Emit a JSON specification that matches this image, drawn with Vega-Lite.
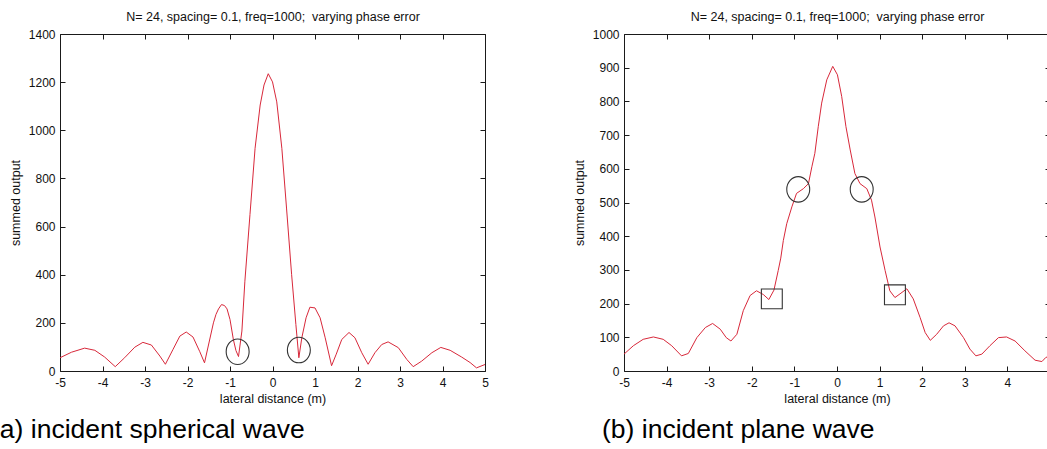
{
  "$schema": "https://vega.github.io/schema/vega-lite/v6.json",
  "padding": {"left": -9, "top": 10, "right": 0, "bottom": 0},
  "background": "white",
  "config": {
    "font": "Liberation Sans",
    "view": {"stroke": null},
    "axis": {
      "grid": false, "domainColor": "#1a1a1a", "tickColor": "#1a1a1a", "tickSize": -5,
      "labelFontSize": 12, "labelColor": "#111", "labelFont": "Liberation Sans",
      "titleFontSize": 12.5, "titleFontWeight": "normal", "titleColor": "#111", "titleFont": "Liberation Sans",
      "labelFlush": false, "labelOverlap": false, "labelExpr": "'' + datum.value"
    }
  },
  "spacing": 139,
  "bounds": "flush",
  "hconcat": [
    {
      "width": 425,
      "height": 337,
      "title": {"text": "(a) incident spherical wave", "orient": "bottom", "anchor": "start", "frame": "group", "dx": -69, "offset": 12, "baseline": "top", "fontSize": 26.5, "fontWeight": "normal", "color": "#000", "font": "Liberation Sans"},
      "layer": [
        {
          "data": {"values": [
            {"x": -5.0, "y": 55}, {"x": -4.73, "y": 78}, {"x": -4.42, "y": 95}, {"x": -4.18, "y": 86}, {"x": -3.95, "y": 58},
            {"x": -3.70, "y": 18}, {"x": -3.48, "y": 55}, {"x": -3.24, "y": 99}, {"x": -3.05, "y": 119}, {"x": -2.85, "y": 108},
            {"x": -2.65, "y": 62}, {"x": -2.52, "y": 28}, {"x": -2.34, "y": 90}, {"x": -2.18, "y": 145}, {"x": -2.03, "y": 162},
            {"x": -1.87, "y": 141}, {"x": -1.71, "y": 80}, {"x": -1.60, "y": 34}, {"x": -1.39, "y": 200}, {"x": -1.33, "y": 235},
            {"x": -1.27, "y": 258}, {"x": -1.20, "y": 276}, {"x": -1.13, "y": 272}, {"x": -1.07, "y": 258}, {"x": -1.00, "y": 214},
            {"x": -0.92, "y": 130}, {"x": -0.86, "y": 85}, {"x": -0.80, "y": 60}, {"x": -0.72, "y": 166}, {"x": -0.65, "y": 373},
            {"x": -0.53, "y": 650}, {"x": -0.41, "y": 925}, {"x": -0.29, "y": 1105}, {"x": -0.20, "y": 1188}, {"x": -0.10, "y": 1235},
            {"x": 0.0, "y": 1201}, {"x": 0.10, "y": 1118}, {"x": 0.22, "y": 925}, {"x": 0.33, "y": 677}, {"x": 0.45, "y": 400},
            {"x": 0.55, "y": 193}, {"x": 0.62, "y": 55}, {"x": 0.69, "y": 138}, {"x": 0.79, "y": 221}, {"x": 0.88, "y": 265},
            {"x": 1.0, "y": 262}, {"x": 1.12, "y": 221}, {"x": 1.24, "y": 138}, {"x": 1.39, "y": 22}, {"x": 1.50, "y": 70},
            {"x": 1.63, "y": 131}, {"x": 1.80, "y": 160}, {"x": 1.94, "y": 138}, {"x": 2.10, "y": 76}, {"x": 2.25, "y": 28},
            {"x": 2.41, "y": 76}, {"x": 2.57, "y": 110}, {"x": 2.72, "y": 121}, {"x": 2.96, "y": 97}, {"x": 3.16, "y": 48},
            {"x": 3.31, "y": 18}, {"x": 3.51, "y": 41}, {"x": 3.75, "y": 76}, {"x": 3.96, "y": 98}, {"x": 4.18, "y": 86},
            {"x": 4.45, "y": 58}, {"x": 4.65, "y": 35}, {"x": 4.80, "y": 13}, {"x": 5.0, "y": 27}
          ]},
          "mark": {"type": "line", "color": "#d8283a", "strokeWidth": 1},
          "encoding": {
            "x": {"field": "x", "type": "quantitative", "scale": {"domain": [-5, 5], "nice": false, "zero": false},
                  "axis": {"orient": "bottom", "title": "lateral distance (m)", "values": [-5, -4, -3, -2, -1, 0, 1, 2, 3, 4, 5], "labelPadding": 11, "titlePadding": 4}},
            "y": {"field": "y", "type": "quantitative", "scale": {"domain": [0, 1400], "nice": false},
                  "axis": {"orient": "left", "title": "summed output", "values": [0, 200, 400, 600, 800, 1000, 1200, 1400], "labelPadding": 10, "titlePadding": 6}}
          }
        },
        {
          "data": {"values": [
            {"x": -0.82, "y": 80, "marker": "circle"},
            {"x": 0.62, "y": 87, "marker": "circle"}
          ]},
          "mark": {"type": "point", "filled": false, "color": "#333", "strokeWidth": 1.1, "size": 650, "opacity": 1},
          "encoding": {
            "x": {"field": "x", "type": "quantitative", "scale": {"domain": [-5, 5], "nice": false, "zero": false},
                  "axis": {"orient": "top", "title": "N= 24, spacing= 0.1, freq=1000;\u00a0 varying phase error", "labels": false, "values": [-5, -4, -3, -2, -1, 0, 1, 2, 3, 4, 5], "titlePadding": 10}},
            "y": {"field": "y", "type": "quantitative", "scale": {"domain": [0, 1400], "nice": false},
                  "axis": {"orient": "right", "title": null, "labels": false, "values": [0, 200, 400, 600, 800, 1000, 1200, 1400]}},
            "shape": {"field": "marker", "type": "nominal", "legend": null,
                      "scale": {"domain": ["circle", "square"], "range": ["M0.9,0C0.9,0.552,0.497,1,0,1C-0.497,1,-0.9,0.552,-0.9,0C-0.9,-0.552,-0.497,-1,0,-1C0.497,-1,0.9,-0.552,0.9,0Z", "M-0.82,-0.78L0.82,-0.78L0.82,0.78L-0.82,0.78Z"]}}
          }
        }
      ],
      "resolve": {"axis": {"x": "independent", "y": "independent"}}
    },
    {
      "width": 426,
      "height": 337,
      "title": {"text": "(b) incident plane wave", "orient": "bottom", "anchor": "start", "frame": "group", "dx": -22, "offset": 12, "baseline": "top", "fontSize": 26.5, "fontWeight": "normal", "color": "#000", "font": "Liberation Sans"},
      "layer": [
        {
          "data": {"values": [
            {"x": -5.0, "y": 50}, {"x": -4.78, "y": 75}, {"x": -4.55, "y": 94}, {"x": -4.31, "y": 101}, {"x": -4.08, "y": 94},
            {"x": -3.88, "y": 75}, {"x": -3.65, "y": 45}, {"x": -3.49, "y": 52}, {"x": -3.29, "y": 99}, {"x": -3.09, "y": 129},
            {"x": -2.92, "y": 141}, {"x": -2.74, "y": 124}, {"x": -2.60, "y": 99}, {"x": -2.49, "y": 89}, {"x": -2.35, "y": 109},
            {"x": -2.20, "y": 179}, {"x": -2.04, "y": 224}, {"x": -1.89, "y": 238}, {"x": -1.73, "y": 227}, {"x": -1.60, "y": 212},
            {"x": -1.48, "y": 240}, {"x": -1.38, "y": 298}, {"x": -1.32, "y": 335}, {"x": -1.26, "y": 387}, {"x": -1.18, "y": 437},
            {"x": -1.06, "y": 487}, {"x": -0.95, "y": 527}, {"x": -0.79, "y": 541}, {"x": -0.67, "y": 556}, {"x": -0.59, "y": 606},
            {"x": -0.52, "y": 646}, {"x": -0.44, "y": 725}, {"x": -0.36, "y": 795}, {"x": -0.24, "y": 864}, {"x": -0.10, "y": 904},
            {"x": 0.01, "y": 879}, {"x": 0.11, "y": 815}, {"x": 0.21, "y": 725}, {"x": 0.31, "y": 656}, {"x": 0.42, "y": 586},
            {"x": 0.54, "y": 556}, {"x": 0.70, "y": 541}, {"x": 0.81, "y": 507}, {"x": 0.89, "y": 457}, {"x": 1.01, "y": 368},
            {"x": 1.13, "y": 298}, {"x": 1.24, "y": 238}, {"x": 1.36, "y": 218}, {"x": 1.48, "y": 229}, {"x": 1.64, "y": 244},
            {"x": 1.79, "y": 214}, {"x": 1.95, "y": 159}, {"x": 2.07, "y": 114}, {"x": 2.19, "y": 91}, {"x": 2.34, "y": 109},
            {"x": 2.50, "y": 134}, {"x": 2.63, "y": 143}, {"x": 2.77, "y": 134}, {"x": 2.97, "y": 99}, {"x": 3.12, "y": 65},
            {"x": 3.26, "y": 45}, {"x": 3.40, "y": 50}, {"x": 3.59, "y": 75}, {"x": 3.79, "y": 99}, {"x": 3.98, "y": 101},
            {"x": 4.18, "y": 89}, {"x": 4.41, "y": 60}, {"x": 4.65, "y": 32}, {"x": 4.81, "y": 28}, {"x": 4.90, "y": 40},
            {"x": 5.0, "y": 45}
          ]},
          "mark": {"type": "line", "color": "#d8283a", "strokeWidth": 1},
          "encoding": {
            "x": {"field": "x", "type": "quantitative", "scale": {"domain": [-5, 5], "nice": false, "zero": false},
                  "axis": {"orient": "bottom", "title": "lateral distance (m)", "values": [-5, -4, -3, -2, -1, 0, 1, 2, 3, 4, 5], "labelExpr": "datum.value == 5 ? '' : '' + datum.value", "labelPadding": 11, "titlePadding": 4}},
            "y": {"field": "y", "type": "quantitative", "scale": {"domain": [0, 1000], "nice": false},
                  "axis": {"orient": "left", "title": "summed output", "values": [0, 100, 200, 300, 400, 500, 600, 700, 800, 900, 1000], "labelPadding": 10, "titlePadding": 6}}
          }
        },
        {
          "data": {"values": [
            {"x": -0.91, "y": 539, "marker": "circle"},
            {"x": 0.58, "y": 539, "marker": "circle"},
            {"x": -1.53, "y": 214, "marker": "square"},
            {"x": 1.36, "y": 226, "marker": "square"}
          ]},
          "mark": {"type": "point", "filled": false, "color": "#333", "strokeWidth": 1.1, "size": 650, "opacity": 1},
          "encoding": {
            "x": {"field": "x", "type": "quantitative", "scale": {"domain": [-5, 5], "nice": false, "zero": false},
                  "axis": {"orient": "top", "title": "N= 24, spacing= 0.1, freq=1000;\u00a0 varying phase error", "labels": false, "values": [-5, -4, -3, -2, -1, 0, 1, 2, 3, 4, 5], "titlePadding": 10}},
            "y": {"field": "y", "type": "quantitative", "scale": {"domain": [0, 1000], "nice": false},
                  "axis": {"orient": "right", "title": null, "labels": false, "values": [0, 100, 200, 300, 400, 500, 600, 700, 800, 900, 1000]}},
            "shape": {"field": "marker", "type": "nominal", "legend": null,
                      "scale": {"domain": ["circle", "square"], "range": ["M0.9,0C0.9,0.552,0.497,1,0,1C-0.497,1,-0.9,0.552,-0.9,0C-0.9,-0.552,-0.497,-1,0,-1C0.497,-1,0.9,-0.552,0.9,0Z", "M-0.82,-0.78L0.82,-0.78L0.82,0.78L-0.82,0.78Z"]}}
          }
        }
      ],
      "resolve": {"axis": {"x": "independent", "y": "independent"}}
    }
  ]
}
